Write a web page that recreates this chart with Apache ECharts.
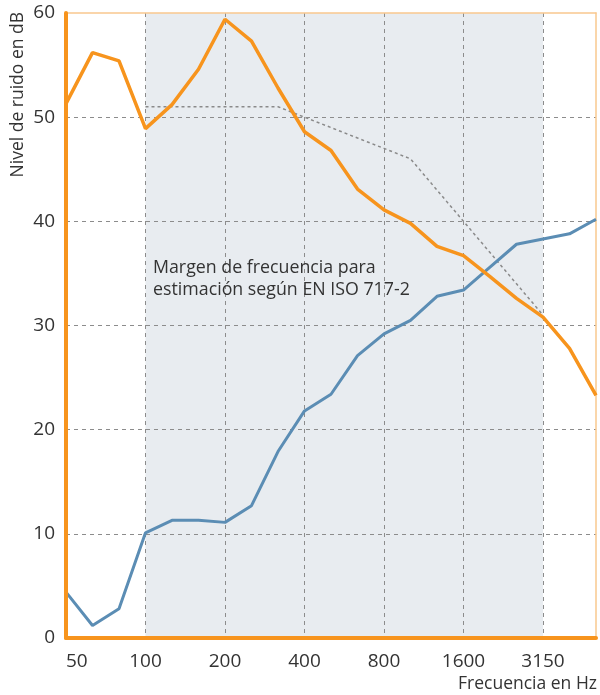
<!DOCTYPE html>
<html>
<head>
<meta charset="utf-8">
<script src="https://cdn.jsdelivr.net/npm/echarts@6/dist/echarts.min.js"></script>
<style>html,body{margin:0;padding:0;background:#fff}#c{width:600px;height:695px}</style>
</head>
<body>
<div id="c"></div>
<script>
const categories = ['50','63','80','100','125','160','200','250','315','400','500','630','800','1000','1250','1600','2000','2500','3150','4000','5000'];
const orangeValues = [51.3, 56.2, 55.4, 48.9, 51.2, 54.6, 59.4, 57.3, 52.8, 48.6, 46.8, 43.1, 41.1, 39.8, 37.6, 36.7, 34.7, 32.6, 30.8, 27.8, 23.3];
const blueValues = [4.4, 1.2, 2.8, 10.1, 11.3, 11.3, 11.1, 12.7, 17.9, 21.8, 23.4, 27.1, 29.2, 30.5, 32.8, 33.4, 35.6, 37.8, 38.3, 38.8, 40.2];
const referenceValues = [null, null, null, 51, 51, 51, 51, 51, 51, 50, 49, 48, 47, 46, 43, 40, 37, 34, 31, null, null];
const labelledTicks = ['50','100','200','400','800','1600','3150'];
const yMin = 0, yMax = 60, yStep = 10;
const rangeStart = '100';
const rangeEnd = '3150';
const annotation = 'Margen de frecuencia para\nestimación según EN ISO 717-2';
const yTitle = 'Nivel de ruido en dB';
const xTitle = 'Frecuencia en Hz';

const FONT = 'Open Sans';
const ORANGE = '#f7941d';
const BLUE = '#5b8db4';
const TXT = '#333333';
const GRIDC = '#8c8c8c';
const BORDER = '#f9c88e';

const W = 600, H = 695;
const G = {left: 66, right: 4, top: 13, bottom: 57};
const plotH = H - G.top - G.bottom;
// second grid covering only the inner gridline range (yMin .. yMax - yStep)
const innerTop = G.top + plotH * yStep / (yMax - yMin);

const chart = echarts.init(document.getElementById('c'), null, {renderer: 'canvas'});
const isLabelled = (i) => labelledTicks.indexOf(categories[i]) >= 0;
const off = {show: false};
chart.setOption({
  animation: false,
  grid: [
    {left: G.left, right: G.right, top: G.top, bottom: G.bottom, show: false},
    {left: G.left, right: G.right, top: innerTop, bottom: G.bottom, show: false}
  ],
  xAxis: [{
    gridIndex: 0, type: 'category', data: categories, boundaryGap: false,
    axisLine: {lineStyle: {color: ORANGE, width: 4}},
    axisTick: off,
    axisLabel: {interval: (i) => isLabelled(i), color: TXT, fontSize: 19, fontFamily: FONT, margin: 14, alignMinLabel: 'left'},
    splitLine: off,
    z: 6
  }, {
    gridIndex: 0, type: 'category', data: categories, boundaryGap: false, position: 'top',
    axisLine: {onZero: false, lineStyle: {color: BORDER, width: 1.5}},
    axisTick: off, axisLabel: off, splitLine: off,
    z: 3
  }, {
    gridIndex: 0, type: 'category', data: categories, boundaryGap: false, position: 'bottom',
    axisLine: {show: false, onZero: false}, axisTick: off, axisLabel: off,
    splitLine: {show: true, interval: (i) => isLabelled(i) && i > 0, lineStyle: {color: GRIDC, type: [4, 4], width: 1}},
    z: 2
  }, {
    gridIndex: 1, type: 'category', data: categories, boundaryGap: false,
    axisLine: {show: false, onZero: false}, axisTick: off, axisLabel: off, splitLine: off
  }],
  yAxis: [{
    gridIndex: 0, type: 'value', min: yMin, max: yMax, interval: yStep,
    axisLine: {show: true, lineStyle: {color: ORANGE, width: 4}},
    axisTick: off,
    axisLabel: {color: TXT, fontSize: 19, fontFamily: FONT, margin: 11},
    splitLine: off,
    z: 6
  }, {
    gridIndex: 0, type: 'value', min: yMin, max: yMax, interval: yStep, position: 'right',
    axisLine: {show: true, onZero: false, lineStyle: {color: BORDER, width: 1.5}},
    axisTick: off, axisLabel: off, splitLine: off,
    z: 3
  }, {
    gridIndex: 1, type: 'value', min: yMin, max: yMax - yStep, interval: yStep,
    axisLine: {show: false, onZero: false}, axisTick: off, axisLabel: off,
    splitLine: {show: true, lineStyle: {color: GRIDC, type: [4, 4], width: 1}},
    z: 2
  }],
  series: [{
    type: 'line', data: [], z: -1,
    markArea: {silent: true, z: -1, itemStyle: {color: '#e8ecf0'}, data: [[{xAxis: rangeStart}, {xAxis: rangeEnd}]]}
  }, {
    name: 'ref', type: 'line', data: referenceValues, symbol: 'none', connectNulls: false,
    lineStyle: {color: '#8a8a8a', width: 1.5, type: [3, 3]}, z: 3
  }, {
    name: 'blue', type: 'line', data: blueValues, symbol: 'none',
    lineStyle: {color: BLUE, width: 3}, z: 4
  }, {
    name: 'orange', type: 'line', data: orangeValues, symbol: 'none',
    lineStyle: {color: ORANGE, width: 3.5}, z: 5
  }],
  graphic: [{
    type: 'text', left: 153, top: 257, z: 100,
    style: {text: annotation, fill: TXT, font: '17.8px "' + FONT + '"', lineHeight: 22}
  }, {
    type: 'text', x: 18, y: 12, rotation: Math.PI / 2, z: 100,
    style: {text: yTitle, fill: TXT, font: '17.5px "' + FONT + '"', align: 'right', verticalAlign: 'middle'}
  }, {
    type: 'text', right: 3, top: 675, z: 100,
    style: {text: xTitle, fill: TXT, font: '17.5px "' + FONT + '"'}
  }]
});
</script>
</body>
</html>
